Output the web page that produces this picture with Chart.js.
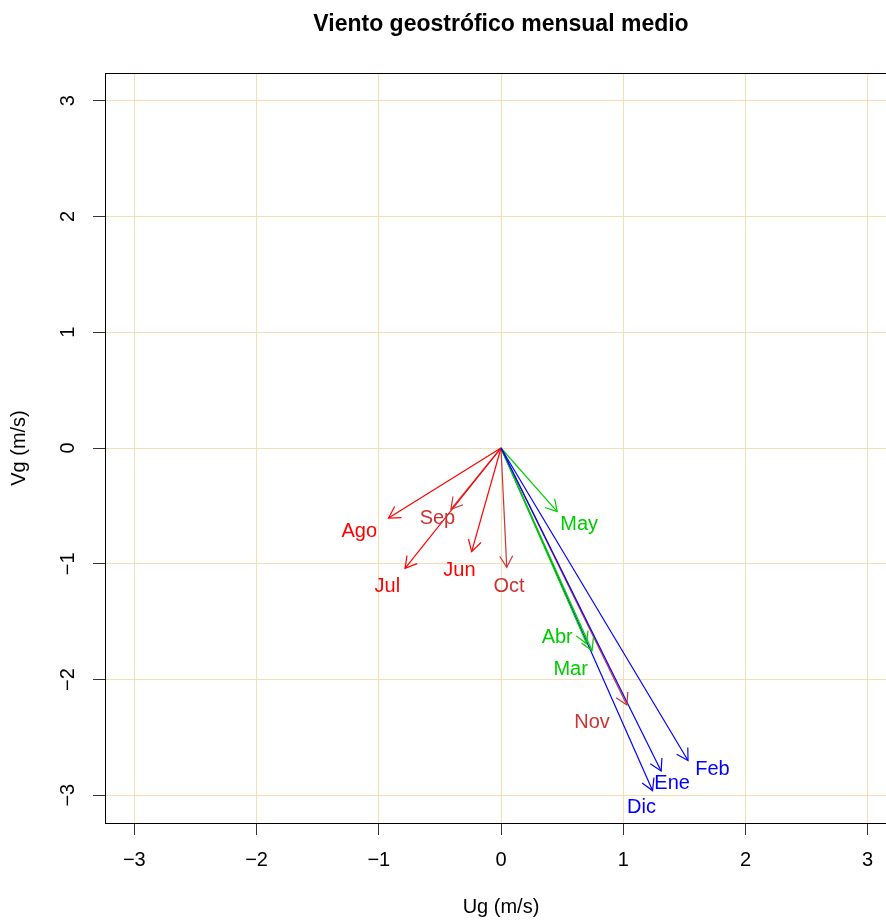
<!DOCTYPE html>
<html>
<head>
<meta charset="utf-8">
<script src="https://cdn.jsdelivr.net/npm/chart.js@4.4.1/dist/chart.umd.min.js"></script>
<style>
  html, body { margin: 0; padding: 0; background: #fff; overflow: hidden; }
</style>
</head>
<body>
<canvas id="c" width="900" height="920"></canvas>
<script>
const months = ['Ene', 'Feb', 'Mar', 'Abr', 'May', 'Jun', 'Jul', 'Ago', 'Sep', 'Oct', 'Nov', 'Dic']
const ug = [1.31, 1.53, 0.745, 0.70, 0.46, -0.24, -0.785, -0.92, -0.41, 0.047, 1.03, 1.24]
const vg = [-2.79, -2.70, -1.75, -1.69, -0.55, -0.895, -1.04, -0.605, -0.53, -1.03, -2.22, -2.96]
// where the month names sit
const labelX = [1.40, 1.73, 0.57, 0.46, 0.64, -0.34, -0.93, -1.16, -0.52, 0.065, 0.745, 1.15]
const labelY = [-2.90, -2.78, -1.91, -1.64, -0.66, -1.06, -1.20, -0.72, -0.61, -1.20, -2.37, -3.11]
const colors = ['#0000FF', '#0000FF', '#00CD00', '#00CD00', '#00CD00', '#FF0000', '#FF0000', '#FF0000',
                '#CD3333', '#CD3333', '#CD3333', '#0000FF']
const axisTicks = [-3, -2, -1, 0, 1, 2, 3]

const FONT = "'Liberation Sans', Arial, sans-serif"
const minus = v => v < 0 ? '\u2212' + Math.abs(v) : String(v)

const arrowPlugin = {
  id: 'arrows',
  afterDatasetsDraw(chart) {
    const ctx = chart.ctx
    const xs = chart.scales.x, ys = chart.scales.y
    ctx.save()
    // arrow heads
    months.forEach((m, i) => {
      const x0 = xs.getPixelForValue(0), y0 = ys.getPixelForValue(0)
      const x1 = xs.getPixelForValue(ug[i]), y1 = ys.getPixelForValue(vg[i])
      const a = Math.atan2(y1 - y0, x1 - x0)
      const len = 13, spread = Math.PI / 6
      ctx.strokeStyle = colors[i]
      ctx.lineWidth = 1.2
      ctx.beginPath()
      ctx.moveTo(x1 - len * Math.cos(a - spread), y1 - len * Math.sin(a - spread))
      ctx.lineTo(x1, y1)
      ctx.lineTo(x1 - len * Math.cos(a + spread), y1 - len * Math.sin(a + spread))
      ctx.stroke()
    })
    // month names
    ctx.font = '20px ' + FONT
    ctx.textAlign = 'center'
    ctx.textBaseline = 'middle'
    months.forEach((m, i) => {
      ctx.fillStyle = colors[i]
      ctx.fillText(m, xs.getPixelForValue(labelX[i]), ys.getPixelForValue(labelY[i]))
    })
    ctx.restore()
  },
  afterDraw(chart) {
    const ctx = chart.ctx
    const a = chart.chartArea
    const ys = chart.scales.y
    ctx.save()
    ctx.strokeStyle = '#000'
    ctx.lineWidth = 1
    ctx.strokeRect(a.left + 0.5, a.top + 0.5, a.right - a.left, a.bottom - a.top)
    // y tick labels, turned like R draws them
    ctx.fillStyle = '#000'
    ctx.font = '20px ' + FONT
    ctx.textAlign = 'center'
    ctx.textBaseline = 'middle'
    ys.ticks.forEach(t => {
      const y = ys.getPixelForValue(t.value)
      ctx.save()
      ctx.translate(68, y)
      ctx.rotate(-Math.PI / 2)
      ctx.fillText(minus(t.value), 0, 0)
      ctx.restore()
    })
    ctx.restore()
  }
}

const datasets = months.map((m, i) => ({
  label: m,
  data: [{x: 0, y: 0}, {x: ug[i], y: vg[i]}],
  borderColor: colors[i],
  borderWidth: 1.2,
  pointRadius: 0,
  showLine: true,
  fill: false,
}))

new Chart(document.getElementById('c'), {
  type: 'scatter',
  data: { datasets },
  options: {
    responsive: false,
    animation: false,
    events: [],
    layout: { padding: { left: 0, right: 3, top: 0, bottom: 0 } },
    plugins: {
      legend: { display: false },
      tooltip: { enabled: false },
      title: {
        display: true,
        fullSize: false,
        text: 'Viento geostrófico mensual medio',
        color: '#000',
        font: { family: FONT, size: 23, weight: 'bold' },
        padding: { top: 11, bottom: 34.4 },
      },
    },
    scales: {
      x: {
        type: 'linear',
        min: -3.24,
        max: 3.24,
        afterBuildTicks: s => { s.ticks = axisTicks.map(v => ({value: v})) },
        afterFit: s => { s.height = 97 },
        grid: { color: '#F5DEB3', lineWidth: 1, tickColor: '#333', tickLength: 12, drawTicks: true },
        border: { display: false },
        ticks: {
          color: '#000',
          font: { family: FONT, size: 20 },
          padding: 13,
          maxRotation: 0,
          callback: v => minus(v),
        },
        title: {
          display: true,
          text: 'Ug (m/s)',
          color: '#000',
          font: { family: FONT, size: 20 },
          padding: { top: 0, bottom: 1 },
        },
      },
      y: {
        type: 'linear',
        min: -3.24,
        max: 3.24,
        afterBuildTicks: s => { s.ticks = axisTicks.map(v => ({value: v})) },
        afterFit: s => { s.width = 105 },
        grid: { color: '#F5DEB3', lineWidth: 1, tickColor: '#333', tickLength: 12, drawTicks: true },
        border: { display: false },
        ticks: { display: false },
        title: {
          display: true,
          text: 'Vg (m/s)',
          color: '#000',
          font: { family: FONT, size: 20 },
          padding: { top: 7, bottom: 0 },
        },
      },
    },
  },
  plugins: [arrowPlugin],
})
</script>
</body>
</html>
